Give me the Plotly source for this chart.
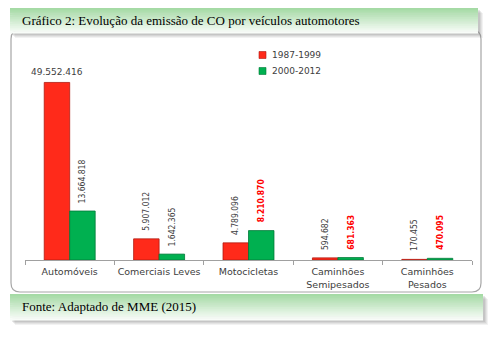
import plotly.graph_objects as go

categories = ["Automóveis", "Comerciais Leves", "Motocicletas", "Caminhões<br>Semipesados", "Caminhões<br>Pesados"]
series_names = ["1987-1999", "2000-2012"]
values_8799 = [49552416, 5907012, 4789096, 594682, 170455]
values_0012 = [13664818, 1642365, 8210870, 681363, 470095]
labels_8799 = ["49.552.416", "5.907.012", "4.789.096", "594.682", "170.455"]
labels_0012 = ["13.664.818", "1.642.365", "8.210.870", "681.363", "470.095"]
highlight_0012 = [False, False, True, True, True]

W, H = 501, 339
L, R, T, B = 25, 472, 45, 260
YMAX = 60000000

def px(x):
    return (x - L) / (R - L)

def py(y):
    return (B - y) / (B - T)

RED = "#ff2a1a"
GREEN = "#00b050"
COLORS = [RED, GREEN]
EDGES = ["#b01a10", "#007a38"]

fig = go.Figure()
for name, vals, col, edge in zip(series_names, [values_8799, values_0012], COLORS, EDGES):
    fig.add_bar(x=categories, y=vals, name=name, showlegend=False,
                marker=dict(color=col, line=dict(color=edge, width=0.8)))

shapes = []

def rect(x0, y0, x1, y1, color, opacity=1.0, line=None, layer="below"):
    d = dict(type="rect", xref="paper", yref="paper",
             x0=px(x0), x1=px(x1), y0=py(y1), y1=py(y0),
             fillcolor=color, opacity=opacity, layer=layer,
             line=dict(width=0) if line is None else line)
    shapes.append(d)

def lerp(c1, c2, t):
    return "rgb(%d,%d,%d)" % tuple(int(round(a + (b - a) * t)) for a, b in zip(c1, c2))

def band(x0, y0, x1, y1):
    for k, op in [(5, 0.10), (4, 0.12), (3, 0.15), (2, 0.18)]:
        rect(x0 + k, y0 + k, x1 + k, y1 + k, "#808080", op)
    n = 14
    top = (165, 218, 165)
    bot = (248, 252, 248)
    for i in range(n):
        ya = y0 + (y1 - y0) * i / n
        yb = y0 + (y1 - y0) * (i + 1) / n + 0.5
        rect(x0, ya, x1, yb, lerp(top, bot, i / (n - 1)))

# chart box (rounded)
bx0, by0, bx1, by1, r = 11, 30, 481, 292, 9
path = "M %f,%f L %f,%f Q %f,%f %f,%f L %f,%f Q %f,%f %f,%f L %f,%f Q %f,%f %f,%f L %f,%f Q %f,%f %f,%f Z" % (
    px(bx0 + r), py(by0), px(bx1 - r), py(by0), px(bx1), py(by0), px(bx1), py(by0 + r),
    px(bx1), py(by1 - r), px(bx1), py(by1), px(bx1 - r), py(by1),
    px(bx0 + r), py(by1), px(bx0), py(by1), px(bx0), py(by1 - r),
    px(bx0), py(by0 + r), px(bx0), py(by0), px(bx0 + r), py(by0))
shapes.append(dict(type="path", xref="paper", yref="paper", path=path,
                   fillcolor="white", line=dict(color="#a6a6a6", width=1.2), layer="below"))

band(10, 8, 478, 33)
band(10, 294, 483, 320)

annotations = [
    dict(text="Gráfico 2: Evolução da emissão de CO por veículos automotores",
         xref="paper", yref="paper", x=px(20), y=py(20), xanchor="left", yanchor="middle",
         showarrow=False, font=dict(family="Liberation Serif", size=13, color="#000000")),
    dict(text="Fonte: Adaptado de MME (2015)",
         xref="paper", yref="paper", x=px(20), y=py(306), xanchor="left", yanchor="middle",
         showarrow=False, font=dict(family="Liberation Serif", size=13, color="#000000")),
]

# manual legend
for j, (name, col, edge) in enumerate(zip(series_names, COLORS, EDGES)):
    yc = 55 + 16 * j
    rect(259, yc - 3.5, 266, yc + 3.5, col, 1.0, line=dict(color=edge, width=0.6), layer="above")
    annotations.append(dict(text=name, xref="paper", yref="paper", x=px(270), y=py(yc),
                            xanchor="left", yanchor="middle", showarrow=False,
                            font=dict(family="DejaVu Sans", size=9, color="#404040")))

OFF = 12.75
ROT_FONT = "DejaVu Sans Condensed"
for i, c in enumerate(categories):
    if i == 0:
        annotations.append(dict(x=c, y=values_8799[i], xshift=-OFF, yshift=3, text=labels_8799[i],
                                showarrow=False, yanchor="bottom", xanchor="center",
                                font=dict(family="DejaVu Sans", size=9, color="#404040")))
    else:
        annotations.append(dict(x=c, y=values_8799[i], xshift=-OFF, yshift=6, text=labels_8799[i],
                                showarrow=False, yanchor="bottom", xanchor="center", textangle=-90,
                                font=dict(family=ROT_FONT, size=8.5, color="#404040")))
    hl = highlight_0012[i]
    annotations.append(dict(x=c, y=values_0012[i], xshift=OFF, yshift=6,
                            text=("<b>%s</b>" % labels_0012[i]) if hl else labels_0012[i],
                            showarrow=False, yanchor="bottom", xanchor="center", textangle=-90,
                            font=dict(family=ROT_FONT, size=8.5,
                                      color="#ff0000" if hl else "#404040")))

fig.update_layout(
    width=W, height=H,
    margin=dict(l=L, r=W - R, t=T, b=H - B, pad=0),
    paper_bgcolor="white", plot_bgcolor="rgba(0,0,0,0)",
    barmode="group", bargap=0.43, bargroupgap=0,
    showlegend=False,
    shapes=shapes,
    annotations=annotations,
    xaxis=dict(range=[-0.5, 4.5], showline=True, linecolor="#a0a0a0", linewidth=1,
               ticks="outside", tickson="boundaries", ticklen=4, tickcolor="#a0a0a0",
               ticklabelstandoff=3, tickangle=0,
               tickfont=dict(family="DejaVu Sans", size=9.5, color="#404040"),
               showgrid=False, fixedrange=True),
    yaxis=dict(range=[0, YMAX], visible=False, showgrid=False, fixedrange=True),
)

fig.write_html("out.html")
